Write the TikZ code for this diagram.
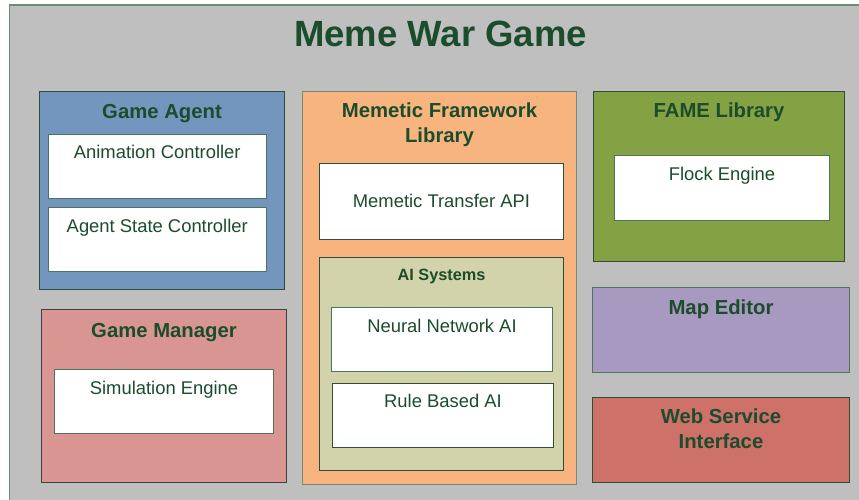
\documentclass[tikz,border=0pt]{standalone}
\usepackage{fontspec}
\setmainfont{Liberation Sans}
\definecolor{bggray}{HTML}{BFBFBF}
\definecolor{frameedge}{HTML}{6F8C76}
\definecolor{edge}{HTML}{2F4E3A}
\definecolor{inneredge}{HTML}{4C7559}
\definecolor{ink}{HTML}{1B4C2C}
\definecolor{agentblue}{HTML}{7396BF}
\definecolor{memorange}{HTML}{F8B47E}
\definecolor{famegreen}{HTML}{84A244}
\definecolor{aikhaki}{HTML}{D2D3AB}
\definecolor{mgrpink}{HTML}{D99592}
\definecolor{mappurple}{HTML}{A899C0}
\definecolor{webred}{HTML}{CD7169}
\tikzset{
  sized/.style 2 args={minimum width=#1,minimum height=#2},
  box/.style={draw=edge,line width=1pt,inner sep=0pt,anchor=north west},
  part/.style={box,draw=inneredge,fill=white},
  head/.style={text=ink,font=\bfseries\fontsize{20.3}{25}\selectfont,align=center,inner sep=0pt,anchor=base},
  subhead/.style={text=ink,font=\bfseries\fontsize{16.3}{20}\selectfont,inner sep=0pt,anchor=base},
  item/.style={text=ink,font=\fontsize{18.4}{22}\selectfont,inner sep=0pt,anchor=base}
}
\begin{document}
\begin{tikzpicture}[x=1pt,y=-1pt]
\useasboundingbox (0,0) rectangle (859,499);

% outer frame (runs past the page on the right and bottom)
\node[box,draw=frameedge,line width=1.5pt,fill=bggray,sized={880}{520}] (frame) at (8.5,4) {};
\node[text=ink,font=\bfseries\fontsize{36.5}{40}\selectfont,inner sep=0pt,anchor=base] (title) at (440.5,46) {Meme War Game};

% Game Agent
\node[box,fill=agentblue,sized={245}{198}] (ga) at (39,91) {};
\node[head] (gaT) at ([yshift=-27pt]ga.north) {Game Agent};
\node[part,sized={218.5}{64.5}] (ac) at (47.5,133.5) {};
\node[item] (acT) at ([yshift=-25pt]ac.north) {Animation Controller};
\node[part,sized={218.5}{64}] (asc) at (47.5,207) {};
\node[item] (ascT) at ([yshift=-25pt]asc.north) {Agent State Controller};

% Game Manager
\node[box,draw=black!75,fill=mgrpink,sized={245}{173}] (gm) at (41,309) {};
\node[head] (gmT) at ([yshift=-28pt]gm.north) {Game Manager};
\node[part,sized={219}{64}] (se) at (54,369) {};
\node[item] (seT) at ([yshift=-25pt]se.north) {Simulation Engine};

% Memetic Framework Library (two-line titles sit on the baseline of their last line)
\node[box,draw=frameedge,fill=memorange,sized={274}{393}] (mf) at (302,91) {};
\node[head] (mfT) at ([yshift=-51pt]mf.north) {Memetic Framework\\Library};
\node[part,draw=edge,sized={244}{76}] (mt) at (319,163) {};
\node[item] (mtT) at ([yshift=-44pt]mt.north) {Memetic Transfer API};
\node[box,fill=aikhaki,sized={244}{213}] (ai) at (319,257) {};
\node[subhead] (aiT) at ([yshift=-23pt]ai.north) {AI Systems};
\node[part,sized={221}{64}] (nn) at (331,307) {};
\node[item] (nnT) at ([yshift=-25pt]nn.north) {Neural Network AI};
\node[part,draw=edge,sized={221}{64}] (rb) at (332,383) {};
\node[item] (rbT) at ([yshift=-24pt]rb.north) {Rule Based AI};

% FAME Library
\node[box,fill=famegreen,sized={251}{170}] (fame) at (593,91) {};
\node[head] (fameT) at ([yshift=-26pt]fame.north) {FAME Library};
\node[part,sized={215}{65}] (fe) at (614,155) {};
\node[item] (feT) at ([yshift=-25pt]fe.north) {Flock Engine};

% Map Editor and Web Service Interface
\node[box,draw=inneredge,fill=mappurple,sized={257}{85}] (me) at (592,287) {};
\node[head] (meT) at ([yshift=-27pt]me.north) {Map Editor};
\node[box,fill=webred,sized={257}{85}] (ws) at (592,397) {};
\node[head] (wsT) at ([yshift=-51pt]ws.north) {Web Service\\Interface};
\end{tikzpicture}
\end{document}
